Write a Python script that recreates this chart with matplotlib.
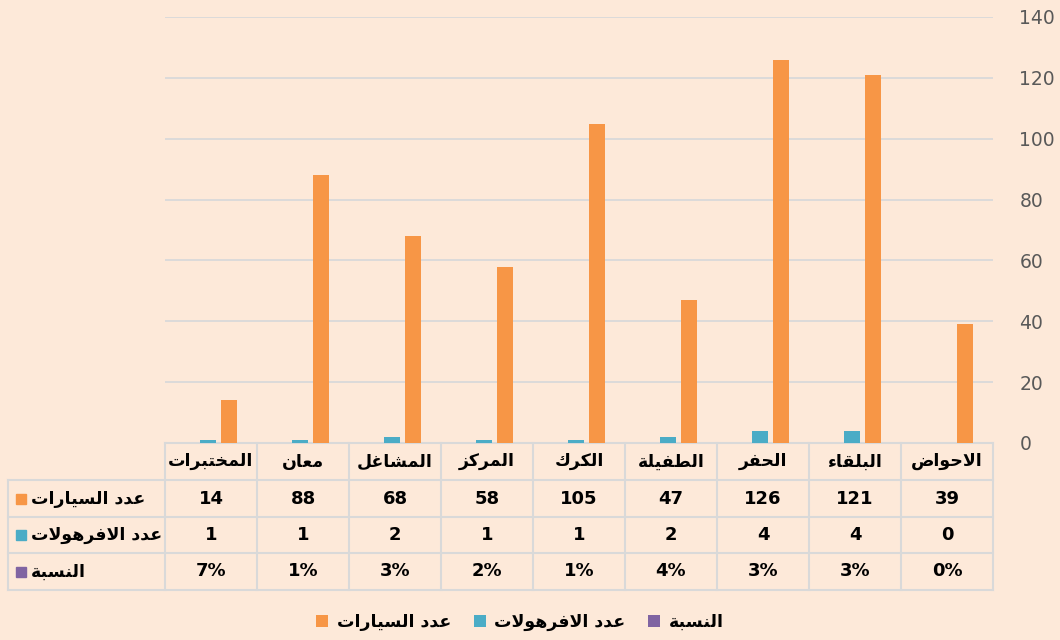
import matplotlib
matplotlib.use("Agg")
import matplotlib.pyplot as plt
import matplotlib.transforms as mtransforms
from matplotlib.patches import Rectangle
import numpy as np

# data (left to right as shown)
categories = ["المختبرات", "معان", "المشاغل", "المركز", "الكرك", "الطفيلة", "الحفر", "البلقاء", "الاحواض"]
cars = [14, 88, 68, 58, 105, 47, 126, 121, 39]
ferhoulat = [1, 1, 2, 1, 1, 2, 4, 4, 0]
ratio = [0.07, 0.01, 0.03, 0.02, 0.01, 0.04, 0.03, 0.03, 0.00]
ratio_labels = ["7%", "1%", "3%", "2%", "1%", "4%", "3%", "3%", "0%"]
series_names = ["عدد السيارات", "عدد الافرهولات", "النسبة"]
colors = ["#F79646", "#4BACC6", "#8064A2"]
yticks = [0, 20, 40, 60, 80, 100, 120, 140]

# tiny arabic shaper: presentation forms (isol, fin, init, medi)
FORMS = {
    'ء': ('\uFE80',),
    'ا': ('\uFE8D', '\uFE8E'),
    'ب': ('\uFE8F', '\uFE90', '\uFE91', '\uFE92'),
    'ة': ('\uFE93', '\uFE94'),
    'ت': ('\uFE95', '\uFE96', '\uFE97', '\uFE98'),
    'ح': ('\uFEA1', '\uFEA2', '\uFEA3', '\uFEA4'),
    'خ': ('\uFEA5', '\uFEA6', '\uFEA7', '\uFEA8'),
    'د': ('\uFEA9', '\uFEAA'),
    'ر': ('\uFEAD', '\uFEAE'),
    'ز': ('\uFEAF', '\uFEB0'),
    'س': ('\uFEB1', '\uFEB2', '\uFEB3', '\uFEB4'),
    'ش': ('\uFEB5', '\uFEB6', '\uFEB7', '\uFEB8'),
    'ض': ('\uFEBD', '\uFEBE', '\uFEBF', '\uFEC0'),
    'ط': ('\uFEC1', '\uFEC2', '\uFEC3', '\uFEC4'),
    'ع': ('\uFEC9', '\uFECA', '\uFECB', '\uFECC'),
    'غ': ('\uFECD', '\uFECE', '\uFECF', '\uFED0'),
    'ف': ('\uFED1', '\uFED2', '\uFED3', '\uFED4'),
    'ق': ('\uFED5', '\uFED6', '\uFED7', '\uFED8'),
    'ك': ('\uFED9', '\uFEDA', '\uFEDB', '\uFEDC'),
    'ل': ('\uFEDD', '\uFEDE', '\uFEDF', '\uFEE0'),
    'م': ('\uFEE1', '\uFEE2', '\uFEE3', '\uFEE4'),
    'ن': ('\uFEE5', '\uFEE6', '\uFEE7', '\uFEE8'),
    'ه': ('\uFEE9', '\uFEEA', '\uFEEB', '\uFEEC'),
    'و': ('\uFEED', '\uFEEE'),
    'ي': ('\uFEF1', '\uFEF2', '\uFEF3', '\uFEF4'),
    'LA': ('\uFEFB', '\uFEFC'),
}


def shape(text):
    toks = []
    i = 0
    while i < len(text):
        if text[i] == 'ل' and i + 1 < len(text) and text[i + 1] == 'ا':
            toks.append('LA')
            i += 2
        else:
            toks.append(text[i])
            i += 1
    out = []
    for k, t in enumerate(toks):
        if t not in FORMS:
            out.append(t)
            continue
        f = FORMS[t]
        prev = toks[k - 1] if k > 0 else None
        nxt = toks[k + 1] if k + 1 < len(toks) else None
        cp = prev in FORMS and len(FORMS[prev]) == 4 and len(f) >= 2
        cn = len(f) == 4 and nxt in FORMS and len(FORMS[nxt]) >= 2
        if cp and cn:
            out.append(f[3])
        elif cp:
            out.append(f[1])
        elif cn:
            out.append(f[2])
        else:
            out.append(f[0])
    return ''.join(out[::-1])


bg = "#FDE9D9"
grid_c = "#D9D9D9"
W, H = 1060, 640

fig = plt.figure(figsize=(10.6, 6.4), dpi=100, facecolor=bg)
ax = fig.add_axes([165 / W, 1 - 443 / H, (993 - 165) / W, (443 - 17) / H])
ax.set_facecolor(bg)

x = np.arange(len(categories))
bw = 0.175
step = 0.228
c0 = -0.03
ax.bar(x + c0 - step, ratio, bw, color=colors[2], label=shape(series_names[2]), zorder=3)
ax.bar(x + c0, ferhoulat, bw, color=colors[1], label=shape(series_names[1]), zorder=3)
ax.bar(x + c0 + step, cars, bw, color=colors[0], label=shape(series_names[0]), zorder=3)

ax.set_xlim(-0.5, len(categories) - 0.5)
ax.set_ylim(0, 140)
ax.set_yticks(yticks)
ax.yaxis.tick_right()
ax.tick_params(axis='y', length=0, pad=19, labelsize=13.5, labelcolor="#595959")
ax.tick_params(axis='x', length=0, labelbottom=False)
ax.grid(axis='y', color=grid_c, linewidth=1.3, zorder=0)
for s in ax.spines.values():
    s.set_visible(False)

# data table under the axis
blend = mtransforms.blended_transform_factory(ax.transData, fig.transFigure)
unit = (993 - 165) / 9
xl = -0.5 - (165 - 8) / unit
xr = len(categories) - 0.5
rows_y = [443, 480, 517, 553, 590]
lkw = dict(color=grid_c, linewidth=1.5, transform=blend, clip_on=False, zorder=1)
ax.plot([-0.5, xr], [1 - 443 / H] * 2, **lkw)
for yy in rows_y[1:]:
    ax.plot([xl, xr], [1 - yy / H] * 2, **lkw)
for k in range(len(categories) + 1):
    ax.plot([k - 0.5] * 2, [1 - 443 / H, 1 - 590 / H], **lkw)
ax.plot([xl] * 2, [1 - 480 / H, 1 - 590 / H], **lkw)

ar_font = dict(family="DejaVu Sans", weight="bold", color="black")
centers = [(a + b) / 2 for a, b in zip(rows_y[:-1], rows_y[1:])]
for k, cat in enumerate(categories):
    ax.text(k, 1 - centers[0] / H, shape(cat), ha='center', va='center', fontsize=12.5,
            transform=blend, **ar_font)
    ax.text(k, 1 - centers[1] / H, str(cars[k]), ha='center', va='center', fontsize=13,
            transform=blend, **ar_font)
    ax.text(k, 1 - centers[2] / H, str(ferhoulat[k]), ha='center', va='center', fontsize=13,
            transform=blend, **ar_font)
    ax.text(k, 1 - centers[3] / H, ratio_labels[k], ha='center', va='center', fontsize=13,
            transform=blend, **ar_font)

for r in range(3):
    cy = centers[r + 1]
    fig.patches.append(Rectangle((16 / W, 1 - (cy + 5) / H), 10 / W, 10 / H,
                                 transform=fig.transFigure, color=colors[r]))
    fig.text(31 / W, 1 - cy / H, shape(series_names[r]), ha='left', va='center',
             fontsize=12.5, **ar_font)

handles, labels = ax.get_legend_handles_labels()
fig.legend(handles[::-1], labels[::-1], loc='center', bbox_to_anchor=(520 / W, 1 - 622 / H),
           ncol=3, frameon=False, handlelength=0.7, handleheight=0.7, handletextpad=0.5,
           columnspacing=1.3, prop=dict(family="DejaVu Sans", weight="bold", size=12.5))

fig.savefig("out.png", dpi=100, facecolor=bg)
